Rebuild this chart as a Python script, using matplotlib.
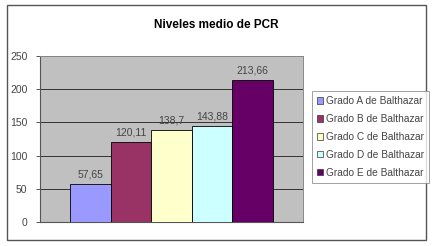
import matplotlib.pyplot as plt
from matplotlib.patches import Rectangle

# chart data
series = ['Grado A de Balthazar', 'Grado B de Balthazar', 'Grado C de Balthazar',
          'Grado D de Balthazar', 'Grado E de Balthazar']
values = [57.65, 120.11, 138.7, 143.88, 213.66]
value_labels = ['57,65', '120,11', '138,7', '143,88', '213,66']
colors = ['#9999FF', '#993366', '#FFFFCC', '#CCFFFF', '#660066']
yticks = [0, 50, 100, 150, 200, 250]

plt.rcParams['font.family'] = ['Liberation Sans', 'DejaVu Sans']

fig = plt.figure(figsize=(4.34, 2.46), dpi=100)
fig.patch.set_facecolor('white')

# outer chart border
fig.patches.append(Rectangle((7 / 434, 1 - 240 / 246), 419 / 434, 235 / 246,
                             transform=fig.transFigure, fill=False,
                             edgecolor='#555555', linewidth=1.0))

ax = fig.add_axes([40 / 434, 1 - 222 / 246, 263 / 434, 166 / 246])
ax.set_facecolor('#C0C0C0')

x = list(range(len(values)))
bars = ax.bar(x, values, width=1.0, color=colors, edgecolor='black',
              linewidth=0.6, label=series, zorder=3)

for xi, v, lab in zip(x, values, value_labels):
    ax.text(xi, v + 7, lab, ha='center', va='bottom', fontsize=7.5, color='#444444')

ax.set_xlim(-1.25, 5.25)
ax.set_ylim(0, 250)
ax.set_yticks(yticks)
ax.set_xticks([])
ax.yaxis.grid(True, color='#333333', linewidth=0.7, zorder=1)
ax.set_axisbelow(True)
ax.tick_params(axis='y', labelsize=7.5, labelcolor='#444444', color='#555555',
               length=3, width=0.7, pad=6)
for side in ['top', 'right']:
    ax.spines[side].set_color('#888888')
    ax.spines[side].set_linewidth(0.7)
ax.spines['left'].set_color('#555555')
ax.spines['bottom'].set_color('#555555')

fig.text(216 / 434, 1 - 25 / 246, 'Niveles medio de PCR', ha='center', va='center',
         fontsize=8.5, fontweight='bold')

handles = [Rectangle((0, 0), 1, 1, facecolor=c, edgecolor='#333333', linewidth=0.5)
           for c in colors]
leg = fig.legend(handles, series, loc='upper left',
                 bbox_to_anchor=(312 / 434, 1 - 91 / 246),
                 fontsize=7.3, frameon=True, fancybox=False,
                 handlelength=0.6, handleheight=0.6, handletextpad=0.3,
                 labelspacing=0.78, borderpad=0.5, borderaxespad=0,
                 labelcolor='#444444')
leg.get_frame().set_edgecolor('#888888')
leg.get_frame().set_linewidth(0.7)

fig.savefig('out.png', dpi=100)
